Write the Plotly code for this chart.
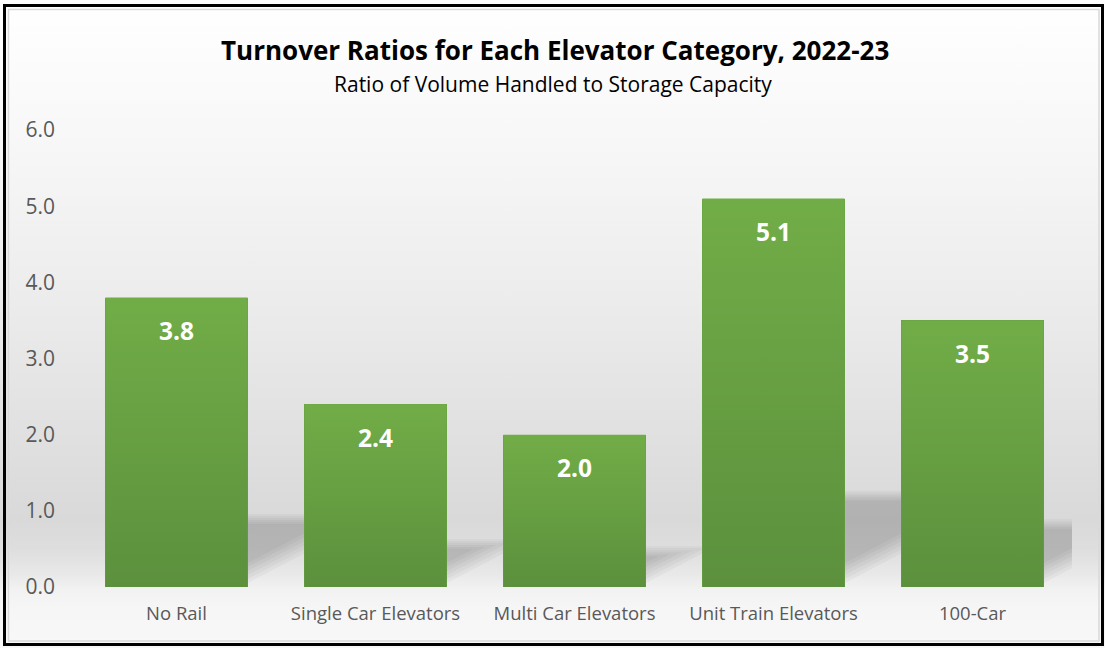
import base64
import plotly.graph_objects as go

# ---------------- data ----------------
categories = ["No Rail", "Single Car Elevators", "Multi Car Elevators",
              "Unit Train Elevators", "100-Car"]
values = [3.8, 2.4, 2.0, 5.1, 3.5]
y_ticks = [0, 1, 2, 3, 4, 5, 6]
title_text = "Turnover Ratios for Each Elevator Category, 2022-23"
subtitle_text = "Ratio of Volume Handled to Storage Capacity"

# ---------------- geometry / style ----------------
W, H = 1105, 648
L, R, T, B = 77, 33, 130, 61
PW, PH = W - L - R, H - T - B
BAR_W = 0.714
FONT = "Open Sans"
Y_MAX = 6


def pxx(px):
    return (px - L) / PW


def pxy(py):
    return (H - B - py) / PH


x_idx = list(range(len(categories)))

fig = go.Figure()

# base bars
fig.add_bar(x=x_idx, y=values, width=BAR_W,
            marker=dict(color="#66a043", line=dict(width=0)),
            hovertext=categories, hoverinfo="text+y", showlegend=False)

# gradient overlay for each bar
for xi, v in zip(x_idx, values):
    xl, xr = xi - BAR_W / 2, xi + BAR_W / 2
    fig.add_scatter(x=[xl, xl, xr, xr, xl], y=[0, v, v, 0, 0],
                    mode="lines", line=dict(width=0), fill="toself",
                    fillgradient=dict(type="vertical", start=0, stop=v,
                                      colorscale=[[0, "#5c903d"], [1, "#71ad47"]]),
                    hoverinfo="skip", showlegend=False)

# soft perspective shadows behind the bars
uy = Y_MAX / PH                 # data units per pixel (y)
SLOPE = 1.37                    # dy/dx in data units
shapes = []
N = 6
for xi, v in zip(x_idx, values):
    h = 0.235 * v
    xr = xi + BAR_W / 2
    b0 = 0.05
    for j in range(N):
        top = h + (2.5 - j) * 2 * uy
        bj = b0 + j * 4 * uy
        dx = (top - bj) / SLOPE
        xl = xr - BAR_W * 0.9
        path = (f"M {xl},{bj} L {xr},{bj} L {xr + dx},{top} "
                f"L {xl},{top} Z")
        shapes.append(dict(type="path", path=path, xref="x", yref="y",
                           fillcolor="rgba(0,0,0,0.03)", line=dict(width=0),
                           layer="below"))

# frame
shapes.append(dict(type="rect", xref="paper", yref="paper",
                   x0=pxx(8.5), x1=pxx(1099), y0=pxy(641), y1=pxy(9.5),
                   line=dict(color="#d9d9d9", width=1.5), layer="above"))
shapes.append(dict(type="rect", xref="paper", yref="paper",
                   x0=pxx(4.5), x1=pxx(1102.5), y0=pxy(644.5), y1=pxy(5.5),
                   line=dict(color="#000000", width=3), layer="above"))

# background gradient (svg)
stops = [(0, "#ffffff"), (130, "#f8f8f8"), (300, "#ececec"), (450, "#dfdfdf"),
         (520, "#d9d9d9"), (550, "#dedede"), (575, "#e9e9e9"), (590, "#f2f2f2"),
         (610, "#f6f6f6"), (648, "#f8f8f8")]
stop_xml = "".join(f'<stop offset="{y / H:.4f}" stop-color="{c}"/>' for y, c in stops)
svg = (f'<svg xmlns="http://www.w3.org/2000/svg" width="{W}" height="{H}" '
       f'viewBox="0 0 {W} {H}" preserveAspectRatio="none">'
       f'<defs><linearGradient id="g" x1="0" y1="0" x2="0" y2="1">{stop_xml}'
       f'</linearGradient></defs><rect x="0" y="0" width="{W}" height="{H}" fill="url(#g)"/></svg>')
src = "data:image/svg+xml;base64," + base64.b64encode(svg.encode()).decode()

# labels
annotations = []
for xi, v in zip(x_idx, values):
    annotations.append(dict(x=xi, y=v, xref="x", yref="y", text=f"<b>{v:.1f}</b>",
                            showarrow=False, yanchor="middle", yshift=-33,
                            font=dict(family=FONT, size=24.5, color="#ffffff")))
annotations.append(dict(x=pxx(555), y=pxy(50), xref="paper", yref="paper",
                        text=f"<b>{title_text}</b>", showarrow=False,
                        xanchor="center", yanchor="middle",
                        font=dict(family=FONT, size=26, color="#000000")))
annotations.append(dict(x=pxx(553), y=pxy(84), xref="paper", yref="paper",
                        text=subtitle_text, showarrow=False,
                        xanchor="center", yanchor="middle",
                        font=dict(family=FONT, size=21, color="#000000")))

fig.update_layout(
    width=W, height=H,
    margin=dict(l=L, r=R, t=T, b=B, pad=0),
    paper_bgcolor="#ffffff",
    plot_bgcolor="rgba(0,0,0,0)",
    font=dict(family=FONT, color="#595959"),
    showlegend=False,
    bargap=0,
    shapes=shapes,
    annotations=annotations,
    images=[dict(source=src, xref="paper", yref="paper",
                 x=pxx(0), y=pxy(0), sizex=W / PW, sizey=H / PH,
                 xanchor="left", yanchor="top", sizing="stretch",
                 layer="below")],
    xaxis=dict(range=[-0.5, len(categories) - 0.5], tickvals=x_idx,
               ticktext=categories, showgrid=False, zeroline=False,
               showline=False, ticks="", ticklabelstandoff=13,
               tickfont=dict(family=FONT, size=18.5, color="#595959"),
               fixedrange=True),
    yaxis=dict(range=[0, Y_MAX], tickvals=y_ticks, tickformat=".1f",
               showgrid=False, zeroline=False, showline=False, ticks="",
               ticklabelstandoff=21,
               tickfont=dict(family=FONT, size=21, color="#595959"),
               fixedrange=True),
)

fig.write_html("out.html", config={"displayModeBar": False},
               post_script="document.body.style.margin='0';document.body.style.overflow='hidden';")
